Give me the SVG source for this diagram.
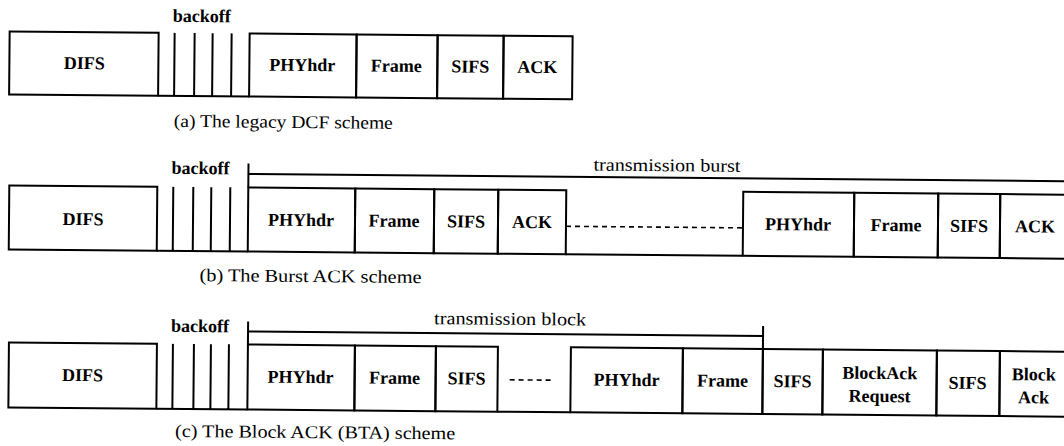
<svg xmlns="http://www.w3.org/2000/svg" width="1064" height="446" viewBox="0 0 1064 446">
<style>
.box{fill:none;stroke:#000;stroke-width:2}
.ln{fill:none;stroke:#000;stroke-width:2}
.dash{fill:none;stroke:#000;stroke-width:1.6;stroke-dasharray:5 4}
.lbl{font-family:"Liberation Serif",serif;font-weight:bold;font-size:18px;text-anchor:middle;fill:#000}
.txt{font-family:"Liberation Serif",serif;font-size:18px;fill:#000}
</style>
<rect width="1064" height="446" fill="#fff"/>
<g transform="rotate(0.5 532 223)">
<!-- Row (a) -->
<g id="row-a">
<g id="a-difs"><rect class="box" x="8" y="36" width="149" height="63"/><text class="lbl" x="83" y="73">DIFS</text></g>
<g id="a-backoff"><path class="ln" d="M173 36V99M193 36V99M211 36V99M230 36V99M157 99H248"/><text class="lbl" x="200" y="25">backoff</text></g>
<g id="a-phy"><rect class="box" x="248" y="36" width="107" height="63"/><text class="lbl" x="301" y="73">PHYhdr</text></g>
<g id="a-frame"><rect class="box" x="355" y="36" width="81" height="63"/><text class="lbl" x="395" y="73">Frame</text></g>
<g id="a-sifs"><rect class="box" x="436" y="36" width="66" height="63"/><text class="lbl" x="469" y="73">SIFS</text></g>
<g id="a-ack"><rect class="box" x="502" y="36" width="69" height="63"/><text class="lbl" x="536" y="73">ACK</text></g>
<text class="txt" x="173" y="130" textLength="219" lengthAdjust="spacingAndGlyphs">(a) The legacy DCF scheme</text>
</g>
<!-- Row (b) -->
<g id="row-b">
<g id="b-difs"><rect class="box" x="9" y="190" width="148" height="64"/><text class="lbl" x="83" y="229">DIFS</text></g>
<g id="b-backoff"><path class="ln" d="M173 190V254M193 190V254M211 190V254M230 190V254M157 254H248"/><text class="lbl" x="200" y="177">backoff</text></g>
<g id="b-phy1"><rect class="box" x="248" y="190" width="107" height="64"/><text class="lbl" x="301" y="228">PHYhdr</text></g>
<g id="b-frame1"><rect class="box" x="355" y="190" width="79" height="64"/><text class="lbl" x="394" y="228">Frame</text></g>
<g id="b-sifs1"><rect class="box" x="434" y="190" width="64" height="64"/><text class="lbl" x="466" y="228">SIFS</text></g>
<g id="b-ack1"><rect class="box" x="498" y="190" width="68" height="64"/><text class="lbl" x="532" y="228">ACK</text></g>
<g id="b-phy2"><rect class="box" x="743" y="190" width="111" height="64"/><text class="lbl" x="798" y="228">PHYhdr</text></g>
<g id="b-frame2"><rect class="box" x="854" y="190" width="84" height="64"/><text class="lbl" x="896" y="228">Frame</text></g>
<g id="b-sifs2"><rect class="box" x="938" y="190" width="62" height="64"/><text class="lbl" x="969" y="228">SIFS</text></g>
<g id="b-ack2"><rect class="box" x="1000" y="190" width="80" height="64"/><text class="lbl" x="1035" y="228">ACK</text></g>
<g id="b-burst"><path class="ln" d="M248 166V190M248 176.5H1080"/><text class="txt" x="593" y="170" textLength="147" lengthAdjust="spacingAndGlyphs">transmission burst</text></g>
<text class="txt" x="200" y="284" textLength="222" lengthAdjust="spacingAndGlyphs">(b) The Burst ACK scheme</text>
</g>
<!-- Row (c) -->
<g id="row-c">
<g id="c-difs"><rect class="box" x="10" y="347" width="148" height="65"/><text class="lbl" x="84" y="385">DIFS</text></g>
<g id="c-backoff"><path class="ln" d="M174 347V412M195 347V412M212 347V412M230 347V412M158 412H249"/><text class="lbl" x="201" y="335">backoff</text></g>
<g id="c-phy1"><rect class="box" x="249" y="347" width="107" height="65"/><text class="lbl" x="302" y="385">PHYhdr</text></g>
<g id="c-frame1"><rect class="box" x="356" y="347" width="81" height="65"/><text class="lbl" x="396" y="385">Frame</text></g>
<g id="c-sifs1"><rect class="box" x="437" y="347" width="62" height="65"/><text class="lbl" x="468" y="385">SIFS</text></g>
<g id="c-phy2"><rect class="box" x="572" y="347" width="112" height="65"/><text class="lbl" x="628" y="385">PHYhdr</text></g>
<g id="c-frame2"><rect class="box" x="684" y="347" width="80" height="65"/><text class="lbl" x="724" y="385">Frame</text></g>
<g id="c-sifs2"><rect class="box" x="764" y="347" width="60" height="65"/><text class="lbl" x="794" y="385">SIFS</text></g>
<g id="c-bar"><rect class="box" x="824" y="347" width="114" height="65"/><text class="lbl" x="881" y="376">BlockAck</text><text class="lbl" x="881" y="399">Request</text></g>
<g id="c-sifs3"><rect class="box" x="938" y="347" width="63" height="65"/><text class="lbl" x="969" y="385">SIFS</text></g>
<g id="c-ba"><rect class="box" x="1001" y="347" width="80" height="65"/><text class="lbl" x="1035" y="376">Block</text><text class="lbl" x="1035" y="399">Ack</text></g>
<g id="c-block"><path class="ln" d="M249 324V347M249 334H764M764 324V347"/><text class="txt" x="435" y="325" textLength="152" lengthAdjust="spacingAndGlyphs">transmission block</text></g>
<text class="txt" x="177" y="440" textLength="280" lengthAdjust="spacingAndGlyphs">(c) The Block ACK (BTA) scheme</text>
</g>
<!-- connectors -->
<g id="connectors">
<path class="ln" d="M566 254H743"/>
<path class="dash" d="M566 226H743"/>
<path class="ln" d="M499 412H572"/>
<path class="dash" d="M511 380H556"/>
</g>
</g>
</svg>
